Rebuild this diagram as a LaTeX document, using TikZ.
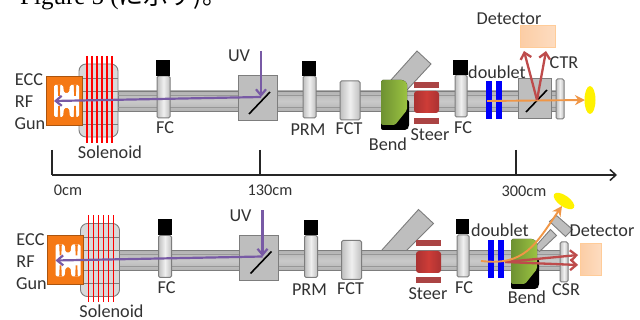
\documentclass[tikz,border=0pt]{standalone}
\usepackage{fontspec}
\setmainfont{Carlito}
\newfontfamily\serifjp{Liberation Serif}
\newfontfamily\cjk{Noto Sans CJK JP}
\usetikzlibrary{arrows.meta,shapes.geometric}
\definecolor{pipeg}{RGB}{190,190,190}
\definecolor{edgeg}{RGB}{125,125,125}
\definecolor{gunor}{RGB}{245,120,20}
\definecolor{purp}{RGB}{120,90,165}
\definecolor{redar}{RGB}{190,75,75}
\definecolor{orar}{RGB}{240,150,70}
\definecolor{bluec}{RGB}{0,0,250}
\definecolor{txt}{RGB}{50,50,50}
\definecolor{detc}{RGB}{252,205,165}
\definecolor{gra}{RGB}{110,145,50}
\definecolor{grb}{RGB}{155,195,65}
\definecolor{sta}{RGB}{205,60,55}
\definecolor{stb}{RGB}{170,50,50}
\tikzset{
  lab/.style={font=\fontsize{18.2}{19}\selectfont,text=txt,inner sep=0pt,anchor=center},
  smlab/.style={font=\fontsize{16.3}{17}\selectfont,text=txt,inner sep=0pt,anchor=center},
  pipeb/.style={rectangle,draw=edgeg,line width=.7pt,top color=gray!60,bottom color=gray!60,middle color=gray!42},
  boxg/.style={rectangle,draw=edgeg,line width=1pt,fill=pipeg},
  monitor/.style={rectangle,rounded corners=1.5pt,draw=edgeg,line width=1pt,left color=gray!50,right color=gray!50,middle color=gray!12},
  capblk/.style={rectangle,fill=black},
  solen/.style={rectangle,rounded corners=7pt,draw=edgeg,line width=.9pt,fill=gray!30},
  coil/.style={draw=red,line width=1.4pt},
  gunb/.style={rectangle,draw=gunor!70!black,line width=.8pt,fill=gunor},
  doub/.style={rectangle,fill=bluec},
  steerbar/.style={rectangle,fill=redar!90!black},
  steerc/.style={rectangle,rounded corners=3pt,left color=stb,right color=stb,middle color=sta},
  detbox/.style={rectangle,draw=orange!40,line width=1pt,left color=detc,right color=detc!70},
  mirror/.style={draw=black,line width=1.6pt},
  beamuv/.style={draw=purp,line width=2.2pt,-{Straight Barb[length=6pt,width=10pt,line width=2.2pt]}},
  beamor/.style={draw=orar,line width=1.9pt,-{Stealth[length=10pt,width=10pt]}},
  beamred/.style={draw=redar,line width=2.3pt,-{Straight Barb[length=6pt,width=11pt,line width=2.3pt]}},
  yell/.style={ellipse,fill=yellow,inner sep=0pt},
  axisl/.style={draw=black!85,line width=1.5pt},
  greendip/.style={left color=gra,right color=grb}
}
\newcommand\bx[6]{%
  \pgfmathsetmacro\cw{#5-#3}\pgfmathsetmacro\ch{#6-#4}%
  \pgfmathsetmacro\cx{(#3+#5)/2}\pgfmathsetmacro\cy{(#4+#6)/2}%
  \node[#1,inner sep=0pt,outer sep=0pt,minimum width=\cw pt,minimum height=\ch pt] (#2) at (\cx,\cy) {};}
\newcommand\leftpart[1]{%
  \bx{pipeb}{pipe}{118}{91}{#1}{111}
  \draw[edgeg!80,line width=.4pt] (118,95)--(#1,95);
  \draw[edgeg!80,line width=.4pt] (118,107)--(#1,107);
}
\newcommand\gunpart{%
  \bx{solen}{sol}{79}{64}{118}{137}
  \foreach \yy in {78,91,111,124}{\draw[edgeg,line width=.6pt] (79,\yy)--(118,\yy);}
  \foreach \xx in {87,92,97,102,107,112}{\draw[coil] (\xx,56)--(\xx,143);}
  \bx{gunb}{gun}{46}{76}{82}{125}
  \fill[white,rounded corners=1.5pt] (54,85)--(63,85)--(64,93)--(69,93)--(70,85)--(79,85)--(79,117)--(70,117)--(69,108)--(64,108)--(63,117)--(54,117)--cycle;
  \foreach \xx in {59,75}{\fill[gunor] (\xx-1.3,85)--(\xx+1.3,85)--(\xx+.8,96)--(\xx-.8,96)--cycle;
    \fill[gunor] (\xx-1.3,117)--(\xx+1.3,117)--(\xx+.8,106)--(\xx-.8,106)--cycle;}
  \node[lab] (lecc) at (29,80) {ECC};
  \node[lab] (lrf) at (24,102) {RF};
  \node[lab] (lgun) at (30,124) {Gun};
  \node[lab] (lsol) at (110,152) {Solenoid};
  \bx{monitor}{fca}{157}{76}{170}{118}
  \bx{capblk}{fcacap}{156}{60}{170}{76}
  \node[lab] (lfca) at (165,128) {FC};
  \bx{boxg}{bs}{238}{76}{277}{121}
  \coordinate (mira) at (249,114);
  \coordinate (mirb) at (270,92);
  \draw[mirror] (mira)--(mirb);
  \coordinate (uvs) at (261,51);
  \coordinate (uvm) at (261,97);
  \coordinate (gunt) at (54,101);
  \draw[beamuv] (uvs)--(uvm);
  \draw[beamuv] (uvm)--(gunt);
  \node[lab] (luv) at (239,56) {UV};
  \bx{monitor}{prm}{303}{76}{316}{118}
  \bx{capblk}{prmcap}{302}{61}{316}{76}
  \node[lab] (lprm) at (308,130) {PRM};
  \bx{monitor}{fct}{340}{81}{360}{120}
  \node[lab] (lfct) at (349,129) {FCT};
}
\newcommand\dipole[2]{%
  \begin{scope}[shift={(#1,#2)}]
    \fill[black,rounded corners=2pt] (0,20)--(0,50)--(26,50)--(28,47)--(28,20)--cycle;
    \fill[greendip,rounded corners=1.5pt] (0,0)--(22,0)--(26,3)--(26,30)--(14,45)--(0,45)--cycle;
  \end{scope}}
\begin{document}
\begin{tikzpicture}[x=1pt,y=-1pt]
\clip (0,0) rectangle (640,320);
\fill[white] (0,0) rectangle (640,320);
\node[anchor=base west,inner sep=0pt,text=black] (figt) at (20,5)
  {\fontsize{25}{26}\selectfont\serifjp Figure 5 (\cjk に示す)。};

% ---------- upper line
\begin{scope}[name prefix=t-]
  \leftpart{556}
  \fill[pipeg,draw=edgeg,line width=.9pt] (391,80)--(417,51)--(431,64)--(407,90)--cycle;
  \gunpart
  \dipole{381}{80}
  \bx{steerc}{st}{414}{91}{439}{113}
  \bx{steerbar}{sta}{414}{82}{439}{88}
  \bx{steerbar}{stb}{414}{118}{439}{124}
  \node[lab] (lbend) at (388,144) {Bend};
  \node[lab] (lsteer) at (430,135) {Steer};
  \bx{monitor}{fcb}{455}{75}{467}{117}
  \bx{capblk}{fcbcap}{453}{60}{468}{75}
  \node[lab] (lfcb) at (463,128) {FC};
  \bx{doub}{da}{486}{81}{492}{119}
  \bx{doub}{db}{496}{81}{502}{119}
  \node[lab] (ldoub) at (497,72) {doublet};
  \bx{boxg}{ctrbox}{518}{79}{551}{119}
  \bx{monitor}{ctrp}{556}{79}{564}{119}
  \coordinate (ma) at (526,112);
  \coordinate (mb) at (547,90);
  \draw[mirror] (ma)--(mb);
  \coordinate (os) at (487,101);
  \coordinate (oe) at (585,100);
  \draw[beamor] (os)--(oe);
  \node[yell,minimum width=11pt,minimum height=28pt] (scr) at (590,100) {};
  \bx{detbox}{det}{520}{26}{555}{48}
  \coordinate (rs) at (537,100);
  \coordinate (rl) at (524,51);
  \coordinate (rr) at (546,51);
  \draw[beamred] (rs)--(rl);
  \draw[beamred] (rs)--(rr);
  \node[lab] (ldet) at (509,19) {Detector};
  \node[lab] (lctr) at (564,63) {CTR};
\end{scope}

% ---------- axis
\coordinate (ax0) at (52,175);
\coordinate (ax1) at (260,175);
\coordinate (ax2) at (516,175);
\coordinate (axe) at (617,175);
\coordinate (tk0) at (52,150);
\coordinate (tk1) at (260,150);
\coordinate (tk2) at (516,150);
\draw[axisl] (tk0)--(ax0);
\draw[axisl] (tk1)--(ax1);
\draw[axisl] (tk2)--(ax2);
\draw[axisl,-{Straight Barb[length=6pt,width=11pt,line width=1.5pt]}] (ax0)--(axe);
\node[smlab] (l0) at (68,190) {0cm};
\node[smlab] (l130) at (270,190) {130cm};
\node[smlab] (l300) at (524,191) {300cm};

% ---------- lower line
\begin{scope}[shift={(1.5,159.5)},name prefix=b-]
  \leftpart{560}
  \fill[pipeg,draw=edgeg,line width=.9pt] (380,91)--(417,50)--(432,64)--(405,91)--cycle;
  \fill[pipeg,draw=edgeg,line width=.9pt] (533,88)--(549,70)--(555,76)--(538,92)--cycle;
  \fill[pipeg,draw=edgeg,line width=.9pt] (548,62)--(555,56)--(571,70)--(564,77)--cycle;
  \gunpart
\end{scope}
\begin{scope}[name prefix=b-]
  \bx{steerc}{st}{416}{251}{441}{273}
  \bx{steerbar}{sta}{416}{240}{441}{246}
  \bx{steerbar}{stb}{416}{277}{441}{283}
  \node[lab] (lsteer) at (428,294) {Steer};
  \bx{monitor}{fcb}{457}{235}{469}{277}
  \bx{capblk}{fcbcap}{456}{219}{469}{234}
  \node[lab] (lfcb) at (464,288) {FC};
  \bx{doub}{da}{488}{240}{494}{278}
  \bx{doub}{db}{498}{240}{504}{278}
  \dipole{511}{239}
  \node[lab] (ldoub) at (500,230) {doublet};
  \node[lab] (lbend) at (527,297) {Bend};
  \bx{monitor}{csr}{560}{242}{568}{282}
  \node[lab] (lcsr) at (566,290) {CSR};
  \bx{detbox}{det}{580}{244}{601}{276}
  \node[lab] (ldet) at (602,231) {Detector};
  \node[yell,rotate=-35,minimum width=24pt,minimum height=11pt] (scr) at (564,201) {};
  \coordinate (rs) at (505,262);
  \coordinate (ra) at (578,255);
  \coordinate (rb) at (578,265);
  \draw[beamred] (rs)--(ra);
  \draw[beamred] (rs)--(rb);
  \coordinate (os) at (481,261);
  \coordinate (oe) at (562,206);
  \draw[beamor] (os) .. controls (525,266) and (535,245) .. (oe);
\end{scope}
\end{tikzpicture}
\end{document}
